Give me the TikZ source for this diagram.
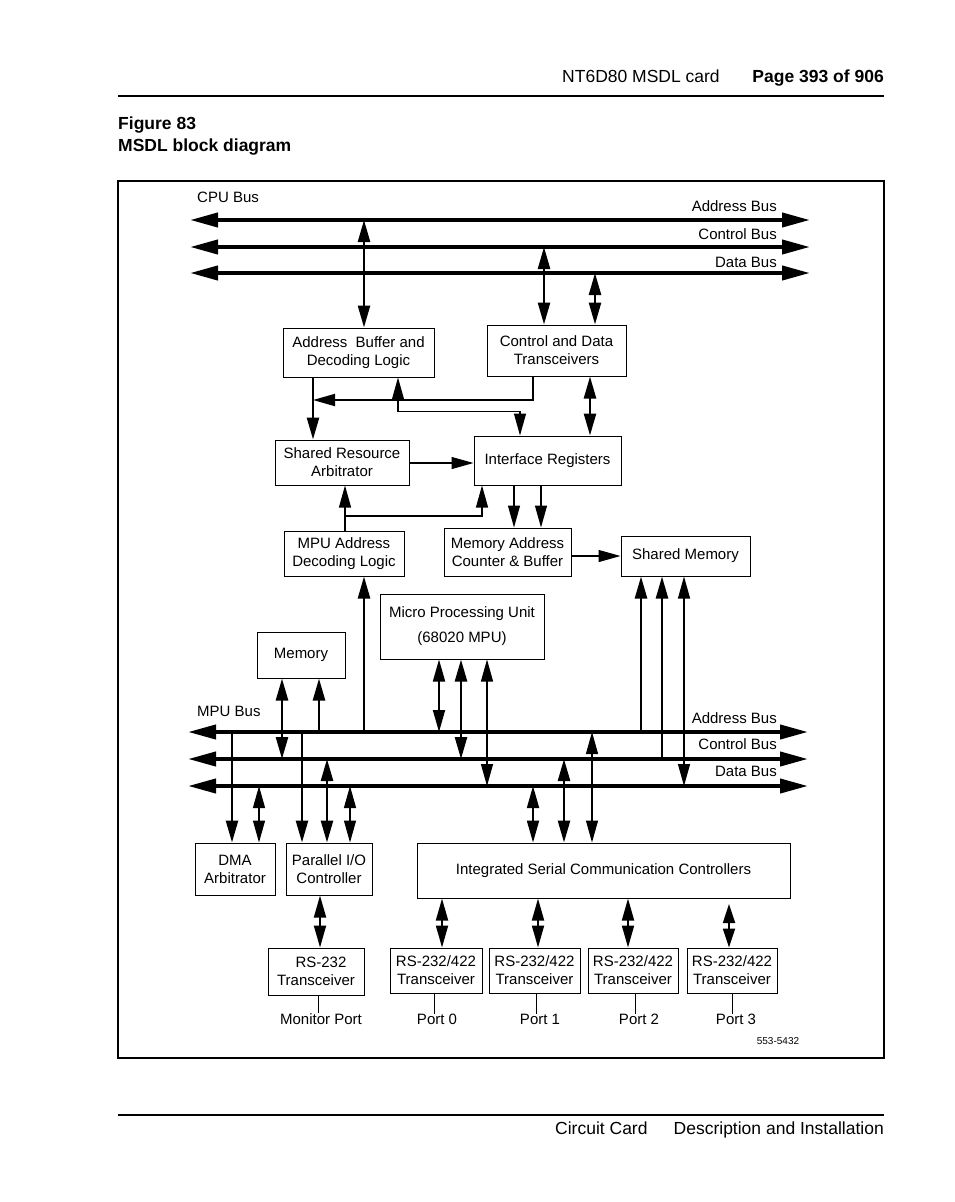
\documentclass[tikz,border=0pt]{standalone}
\usepackage{fontspec}
\setmainfont{Liberation Sans}
\usetikzlibrary{arrows.meta}
\begin{document}
\begin{tikzpicture}[x=1pt,y=-1pt,
  box/.style={draw, line width=1pt, inner sep=0pt, align=center, font=\fontsize{15}{18}\selectfont},
  bus/.style={line width=4pt, {Triangle[length=28pt,width=14pt]}-{Triangle[length=28pt,width=14pt]}},
  thk/.style={line width=2.5pt},
  med/.style={line width=1.8pt},
  thn/.style={line width=1.2pt},
  tip/.style={-{Triangle[length=22pt,width=12pt]}},
  tips/.style={{Triangle[length=22pt,width=12pt]}-{Triangle[length=22pt,width=12pt]}},
  tipsshort/.style={{Triangle[length=19pt,width=12pt]}-{Triangle[length=19pt,width=12pt]}},
  lbl/.style={font=\fontsize{15}{18}\selectfont, inner sep=0pt},
  hdr/.style={font=\fontsize{17.5}{20}\selectfont, inner sep=0pt},
  hdrb/.style={font=\fontsize{17.5}{20}\selectfont\bfseries, inner sep=0pt},
  portline/.style={line width=0.9pt}]
\useasboundingbox (0,0) rectangle (954,1202);

% header / footer
\coordinate (hl) at (118,96); \coordinate (hr) at (884,96);
\draw[line width=1.5pt] (hl) -- (hr);
\node[hdr, anchor=base west] (hd1) at (562,82.3) {NT6D80 MSDL card};
\node[hdrb, anchor=base east] (hd2) at (884,82.3) {Page 393 of 906};
\node[hdrb, anchor=base west] (fig) at (118,129) {Figure 83};
\node[hdrb, anchor=base west] (figt) at (118,151) {MSDL block diagram};
\coordinate (fl) at (118,1115); \coordinate (fr) at (884,1115);
\draw[line width=1.5pt] (fl) -- (fr);
\node[hdr, anchor=base west] (ft1) at (555,1134) {Circuit Card};
\node[hdr, anchor=base east] (ft2) at (884,1134) {Description and Installation};

% frame
\coordinate (frA) at (118,181); \coordinate (frB) at (884,1058);
\draw[line width=1.5pt] (frA) rectangle (frB);

% CPU bus
\coordinate (cab) at (0,220); \coordinate (ccb) at (0,247); \coordinate (cdb) at (0,273);
\coordinate (cabL) at (190,220); \coordinate (cabR) at (810,220);
\coordinate (ccbL) at (190,247); \coordinate (ccbR) at (810,247);
\coordinate (cdbL) at (190,273); \coordinate (cdbR) at (810,273);
\draw[bus] (cabL) -- (cabR);
\draw[bus] (ccbL) -- (ccbR);
\draw[bus] (cdbL) -- (cdbR);
\node[lbl, anchor=base west] (cpubus) at (197,202.5) {CPU Bus};
\node[lbl, anchor=base east] (cal) at (777,211.5) {Address Bus};
\node[lbl, anchor=base east] (ccl) at (777,239.5) {Control Bus};
\node[lbl, anchor=base east] (cdl) at (777,267.5) {Data Bus};

% MPU bus
\coordinate (mab) at (0,732); \coordinate (mcb) at (0,759); \coordinate (mdb) at (0,786);
\coordinate (mabL) at (188,732); \coordinate (mabR) at (808,732);
\coordinate (mcbL) at (188,759); \coordinate (mcbR) at (808,759);
\coordinate (mdbL) at (188,786); \coordinate (mdbR) at (808,786);
\draw[bus] (mabL) -- (mabR);
\draw[bus] (mcbL) -- (mcbR);
\draw[bus] (mdbL) -- (mdbR);
\node[lbl, anchor=base west] (mpubus) at (197,716.5) {MPU Bus};
\node[lbl, anchor=base east] (mal) at (777,723.5) {Address Bus};
\node[lbl, anchor=base east] (mcl) at (777,749.5) {Control Bus};
\node[lbl, anchor=base east] (mdl) at (777,776.5) {Data Bus};

% boxes
\node[box, minimum width=151pt, minimum height=49pt] (abdl) at (358.5,352.5) {Address\ \ Buffer and\\Decoding Logic};
\node[box, minimum width=139pt, minimum height=51pt] (cdt) at (556.5,350.5) {Control and Data\\Transceivers};
\node[box, minimum width=134pt, minimum height=45pt] (sra) at (342,462.5) {Shared Resource\\Arbitrator};
\node[box, minimum width=147pt, minimum height=49pt] (ir) at (547.5,460.5) {Interface Registers};
\node[box, minimum width=120pt, minimum height=45pt] (madl) at (344,553.5) {MPU Address\\Decoding Logic};
\node[box, minimum width=127pt, minimum height=48pt] (macb) at (507.5,552) {Memory Address\\Counter \& Buffer};
\node[box, minimum width=129pt, minimum height=40pt] (sm) at (685.5,556) {Shared Memory};
\node[box, minimum width=164pt, minimum height=65pt] (mpu) at (462,626.5) {Micro Processing Unit\\[7pt](68020 MPU)};
\node[box, minimum width=88pt, minimum height=46pt] (mem) at (301,655) {Memory};
\node[box, minimum width=80pt, minimum height=52pt] (dma) at (235,869) {DMA\\Arbitrator};
\node[box, minimum width=86pt, minimum height=52pt] (pio) at (329,869) {Parallel I/O\\Controller};
\node[box, minimum width=373pt, minimum height=55pt] (iscc) at (603.5,870.5) {Integrated Serial Communication Controllers};
\node[box, minimum width=96pt, minimum height=47pt] (rs) at (316,971.5) {\hspace*{10pt}RS-232\\Transceiver};
\node[box, minimum width=92pt, minimum height=45pt] (t0) at (436,970.5) {RS-232/422\\Transceiver};
\node[box, minimum width=91pt, minimum height=45pt] (t1) at (534.5,970.5) {RS-232/422\\Transceiver};
\node[box, minimum width=90pt, minimum height=45pt] (t2) at (633,970.5) {RS-232/422\\Transceiver};
\node[box, minimum width=90pt, minimum height=45pt] (t3) at (732,970.5) {RS-232/422\\Transceiver};

% port labels
\node[lbl] (monp) at (321,1019) {Monitor Port};
\node[lbl] (p0) at (437,1019) {Port 0};
\node[lbl] (p1) at (540,1019) {Port 1};
\node[lbl] (p2) at (639,1019) {Port 2};
\node[lbl] (p3) at (736,1019) {Port 3};
\node[inner sep=0pt, font=\fontsize{10}{12}\selectfont, anchor=base] (code) at (778,1044.6) {553-5432};

% CPU bus connectors
\draw[thk,tips] (cab -| 364,0) -- (abdl.north -| 364,0);
\draw[thk,tips] (ccb -| 544,0) -- (cdt.north -| 544,0);
\draw[thk,tips] (cdb -| 595,0) -- (cdt.north -| 595,0);

% upper block connectors
\draw[thk,tip] (abdl.south -| 313,0) -- (sra.north -| 313,0);
\coordinate (m1) at (313,400);
\draw[med,tip] (cdt.south -| 533,0) |- (m1);
\coordinate (k1) at (520,411.5);
\draw[thn,tips] (abdl.south -| 398,0) |- (k1) -- (ir.north -| k1);
\draw[thk,tips] (cdt.south -| 590,0) -- (ir.north -| 590,0);
\draw[thn,tip] (sra.east |- 0,463) -- (ir.west |- 0,463);
\draw[thn,tip] (madl.north -| 345,0) -- (sra.south -| 345,0);
\coordinate (k2) at (345,516);
\draw[thn,tip] (k2) -| (ir.south -| 482,0);
\draw[thn,tip] (ir.south -| 514,0) -- (macb.north -| 514,0);
\draw[thn,tip] (ir.south -| 541,0) -- (macb.north -| 541,0);
\draw[thn,tip] (macb.east |- sm.west) -- (sm.west);

% MPU bus connectors
\draw[thk,tip] (mab -| 232,0) -- (dma.north -| 232,0);
\draw[thn,tips] (mdb -| 259,0) -- (dma.north -| 259,0);
\draw[thk,tips] (mem.south -| 282,0) -- (mcb -| 282,0);
\draw[thk,tip] (mab -| 319,0) -- (mem.south -| 319,0);
\draw[thk,tip] (mab -| 302,0) -- (pio.north -| 302,0);
\draw[thk,tips] (mcb -| 327,0) -- (pio.north -| 327,0);
\draw[thn,tips] (mdb -| 350,0) -- (pio.north -| 350,0);
\draw[thk,tip] (mab -| 364,0) -- (madl.south -| 364,0);
\draw[med,tips] (mpu.south -| 439,0) -- (mab -| 439,0);
\draw[thk,tips] (mpu.south -| 461,0) -- (mcb -| 461,0);
\draw[thn,tips] (mpu.south -| 487,0) -- (mdb -| 487,0);
\draw[med,tips] (mdb -| 533,0) -- (iscc.north -| 533,0);
\draw[thk,tips] (mcb -| 564,0) -- (iscc.north -| 564,0);
\draw[thn,tips] (mab -| 592,0) -- (iscc.north -| 592,0);
\draw[thk,tip] (mab -| 641,0) -- (sm.south -| 641,0);
\draw[thk,tip] (mcb -| 662,0) -- (sm.south -| 662,0);
\draw[thn,tips] (mdb -| 684,0) -- (sm.south -| 684,0);

% bottom connectors
\draw[med,tips] (pio.south -| 320,0) -- (rs.north -| 320,0);
\draw[med,tips] (iscc.south -| 442,0) -- (t0.north -| 442,0);
\draw[med,tips] (iscc.south -| 538,0) -- (t1.north -| 538,0);
\draw[med,tips] (iscc.south -| 628,0) -- (t2.north -| 628,0);
\coordinate (p3top) at (729,904);
\draw[med,tipsshort] (p3top) -- (t3.north -| p3top);

% port lines
\draw[portline] (rs.south -| 318,0) -- (monp.north -| 318,0);
\draw[portline] (t0.south -| 434,0) -- (p0.north -| 434,0);
\draw[portline] (t1.south -| 536,0) -- (p1.north -| 536,0);
\draw[portline] (t2.south -| 635,0) -- (p2.north -| 635,0);
\draw[portline] (t3.south -| 732,0) -- (p3.north -| 732,0);
\end{tikzpicture}
\end{document}
